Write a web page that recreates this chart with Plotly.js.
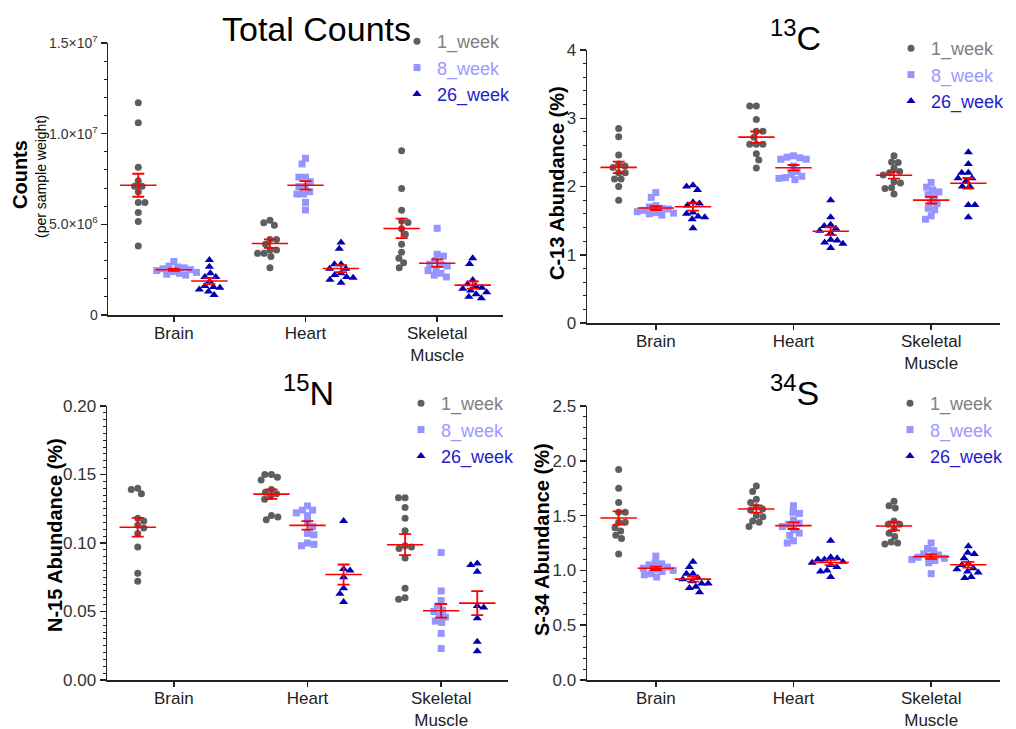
<!DOCTYPE html>
<html><head><meta charset="utf-8">
<script src="https://cdn.plot.ly/plotly-3.0.1.min.js"></script>
<style>html,body{margin:0;padding:0;background:#fff}#chart{width:1016px;height:729px}</style>
</head><body><div id="chart"></div>
<script>
// ---------------- DATA ----------------
const categories = ['Brain', 'Heart', 'Skeletal<br>Muscle'];
const seriesNames = ['1_week', '8_week', '26_week'];

// Total counts (per sample weight): [Brain, Heart, Skeletal Muscle]
const counts_1week = [
  [11.7e6, 10.6e6, 8.15e6, 7.4e6, 7.1e6, 7.1e6, 6.8e6, 6.2e6, 6.2e6, 5.65e6, 5.15e6, 3.8e6],
  [5.22e6, 5.09e6, 4.95e6, 4.17e6, 4.17e6, 3.9e6, 3.58e6, 3.58e6, 3.4e6, 3.4e6, 3.22e6, 2.61e6],
  [9.06e6, 6.97e6, 5.78e6, 5.18e6, 5.1e6, 4.75e6, 4.45e6, 3.9e6, 3.46e6, 3.13e6, 2.88e6, 2.61e6]];
const counts_8week = [
  [2.95e6, 2.7e6, 2.65e6, 2.6e6, 2.55e6, 2.5e6, 2.45e6, 2.4e6, 2.35e6, 2.3e6, 2.25e6, 2.2e6],
  [8.64e6, 8.33e6, 7.6e6, 7.6e6, 7.35e6, 7.08e6, 7.08e6, 6.8e6, 6.67e6, 6.67e6, 6.21e6, 5.79e6],
  [4.78e6, 3.35e6, 3.25e6, 3.0e6, 2.8e6, 2.8e6, 2.7e6, 2.55e6, 2.45e6, 2.3e6, 2.2e6, 2.1e6]];
const counts_26week = [
  [3.03e6, 2.66e6, 2.3e6, 2.1e6, 2.1e6, 1.85e6, 1.6e6, 1.55e6, 1.5e6, 1.4e6, 1.3e6, 1.1e6],
  [4.0e6, 3.65e6, 2.8e6, 2.8e6, 2.55e6, 2.55e6, 2.3e6, 2.2e6, 2.1e6, 2.05e6, 1.95e6, 1.78e6],
  [3.13e6, 2.81e6, 1.93e6, 1.7e6, 1.6e6, 1.5e6, 1.45e6, 1.35e6, 1.25e6, 1.15e6, 1.0e6, 0.92e6]];

// C-13 abundance (%)
const c13_1week = [
  [2.85, 2.73, 2.46, 2.33, 2.3, 2.28, 2.2, 2.2, 2.11, 2.11, 2.0, 1.8],
  [3.18, 3.18, 2.98, 2.81, 2.81, 2.72, 2.62, 2.62, 2.62, 2.48, 2.39, 2.27],
  [2.45, 2.36, 2.35, 2.27, 2.22, 2.2, 2.17, 2.07, 2.05, 1.98, 1.97, 1.89]];
const c13_8week = [
  [1.91, 1.84, 1.72, 1.7, 1.68, 1.67, 1.65, 1.63, 1.62, 1.61, 1.6, 1.58],
  [2.45, 2.43, 2.42, 2.4, 2.4, 2.3, 2.22, 2.18, 2.15, 2.13, 2.12, 2.1],
  [2.06, 1.99, 1.95, 1.92, 1.88, 1.85, 1.77, 1.75, 1.68, 1.66, 1.57, 1.52]];
const c13_26week = [
  [2.02, 2.0, 1.95, 1.77, 1.75, 1.72, 1.62, 1.6, 1.56, 1.55, 1.52, 1.39],
  [1.8, 1.55, 1.44, 1.42, 1.38, 1.35, 1.32, 1.22, 1.21, 1.18, 1.16, 1.1],
  [2.5, 2.33, 2.2, 2.2, 2.12, 2.12, 2.08, 2.0, 2.0, 1.73, 1.73, 1.55]];

// N-15 abundance (%)
const n15_1week = [
  [0.140, 0.139, 0.136, 0.118, 0.116, 0.113, 0.111, 0.107, 0.097, 0.078, 0.072],
  [0.150, 0.150, 0.148, 0.146, 0.139, 0.137, 0.136, 0.134, 0.132, 0.120, 0.119, 0.117],
  [0.133, 0.133, 0.126, 0.118, 0.109, 0.098, 0.097, 0.096, 0.089, 0.067, 0.060, 0.059]];
const n15_8week = [
  [],
  [0.127, 0.124, 0.124, 0.122, 0.120, 0.115, 0.112, 0.107, 0.106, 0.100, 0.099, 0.098],
  [0.093, 0.065, 0.058, 0.054, 0.051, 0.050, 0.047, 0.046, 0.043, 0.042, 0.034, 0.023]];
const n15_26week = [
  [],
  [0.116, 0.081, 0.080, 0.075, 0.067, 0.063, 0.057],
  [0.085, 0.084, 0.079, 0.054, 0.053, 0.045, 0.028, 0.021]];

// S-34 abundance (%)
const s34_1week = [
  [1.92, 1.75, 1.62, 1.53, 1.53, 1.44, 1.44, 1.39, 1.36, 1.32, 1.29, 1.15],
  [1.77, 1.72, 1.65, 1.62, 1.58, 1.56, 1.55, 1.50, 1.49, 1.45, 1.44, 1.40],
  [1.63, 1.59, 1.57, 1.45, 1.42, 1.42, 1.38, 1.34, 1.31, 1.26, 1.25, 1.24]];
const s34_8week = [
  [1.13, 1.07, 1.06, 1.05, 1.03, 1.02, 1.01, 1.00, 0.99, 0.97, 0.96, 0.94],
  [1.59, 1.53, 1.52, 1.46, 1.43, 1.42, 1.40, 1.37, 1.34, 1.32, 1.27, 1.25],
  [1.25, 1.20, 1.18, 1.15, 1.14, 1.13, 1.12, 1.11, 1.10, 1.09, 1.07, 0.97]];
const s34_26week = [
  [1.08, 1.03, 0.97, 0.97, 0.93, 0.92, 0.90, 0.88, 0.88, 0.85, 0.84, 0.80],
  [1.27, 1.12, 1.11, 1.10, 1.10, 1.08, 1.07, 1.05, 1.03, 1.00, 0.99, 0.94],
  [1.22, 1.16, 1.15, 1.11, 1.06, 1.05, 1.02, 1.01, 0.99, 0.98, 0.94, 0.93]];

// Axis tick labels
const countsTickVals = [0, 5e6, 1e7, 1.5e7];
const countsTickText = ['0', '5.0×10<sup>6</sup>', '1.0×10<sup>7</sup>', '1.5×10<sup>7</sup>'];
const c13TickVals = [0, 1, 2, 3, 4];
const c13TickText = ['0', '1', '2', '3', '4'];
const n15TickVals = [0, 0.05, 0.10, 0.15, 0.20];
const n15TickText = ['0.00', '0.05', '0.10', '0.15', '0.20'];
const s34TickVals = [0, 0.5, 1.0, 1.5, 2.0, 2.5];
const s34TickText = ['0.0', '0.5', '1.0', '1.5', '2.0', '2.5'];

// ---------------- STYLE / LAYOUT ----------------
const W = 1016, H = 729;
const FONT = 'Liberation Sans, Arial, sans-serif';
const markerColors = ['#5e5e5e', '#9595ff', '#0000b0'];
const legendColors = ['#808080', '#9a9aff', '#2121cc'];
const symbols = ['circle', 'square', 'triangle-up'];
const sizes = [7, 7, 8];
const groupOffset = [-0.27, 0, 0.27];
const XRANGE = [-0.5, 2.5];

const panels = [
  {key: '', series: [counts_1week, counts_8week, counts_26week], px: [108, 503], py: [43, 315], yr: [0, 1.5e7],
   tv: countsTickVals, tt: countsTickText, tfs: 14, minor: 1e6, legend: 'legend', leg: [397, 41]},
  {key: '2', series: [c13_1week, c13_8week, c13_26week], px: [587, 1000], py: [50, 323], yr: [0, 4],
   tv: c13TickVals, tt: c13TickText, tfs: 17, minor: 0.2, legend: 'legend2', leg: [891, 48]},
  {key: '3', series: [n15_1week, n15_8week, n15_26week], px: [107, 508], py: [406, 680], yr: [0, 0.2],
   tv: n15TickVals, tt: n15TickText, tfs: 17, minor: 0.005, legend: 'legend3', leg: [401, 403]},
  {key: '4', series: [s34_1week, s34_8week, s34_26week], px: [587, 1000], py: [406, 680], yr: [0, 2.5],
   tv: s34TickVals, tt: s34TickText, tfs: 17, minor: 0.1, legend: 'legend4', leg: [890, 403]}
];

function swarm(values, pxPerY, d) {
  const idx = values.map((v, i) => i).sort((a, b) => values[b] - values[a]);
  const placed = [];
  const out = new Array(values.length).fill(0);
  idx.forEach((i, k) => {
    const y = values[i] * pxPerY;
    const cands = [0];
    placed.forEach(p => {
      const dy = Math.abs(p.y - y);
      if (dy < d) { const dx = Math.sqrt(d * d - dy * dy); cands.push(p.x + dx, p.x - dx); }
    });
    cands.sort((a, b) => (Math.abs(a) - Math.abs(b)) || (k % 2 ? a - b : b - a));
    let x = 0;
    for (const c of cands) {
      if (placed.every(p => Math.hypot(p.x - c, p.y - y) >= d - 1e-6)) { x = c; break; }
    }
    placed.push({x, y});
    out[i] = x;
  });
  return out;
}
const mean = a => a.reduce((s, v) => s + v, 0) / a.length;
const sem = a => { const m = mean(a); return Math.sqrt(a.reduce((s, v) => s + (v - m) * (v - m), 0) / (a.length - 1)) / Math.sqrt(a.length); };

const traces = [];
const meanTraces = [];
const layout = {
  width: W, height: H, margin: {l: 0, r: 0, t: 0, b: 0},
  paper_bgcolor: '#fff', plot_bgcolor: '#fff',
  font: {family: FONT, color: '#222'},
  showlegend: true, hovermode: false, annotations: []
};

panels.forEach(P => {
  const xa = 'xaxis' + P.key, ya = 'yaxis' + P.key;
  const xr = 'x' + P.key, yr = 'y' + P.key;
  const pxPerX = (P.px[1] - P.px[0]) / (XRANGE[1] - XRANGE[0]);
  const pxPerY = (P.py[1] - P.py[0]) / (P.yr[1] - P.yr[0]);
  P.series.forEach((ser, s) => {
    const xs = [], ys = [], mx = [], my = [], me = [];
    ser.forEach((vals, c) => {
      if (!vals.length) return;
      const off = swarm(vals, pxPerY, 6.6);
      vals.forEach((v, i) => { xs.push(c + groupOffset[s] + off[i] / pxPerX); ys.push(v); });
      mx.push(c + groupOffset[s]); my.push(mean(vals)); me.push(sem(vals));
    });
    traces.push({
      type: 'scatter', mode: 'markers', x: xs, y: ys, xaxis: xr, yaxis: yr,
      name: '<span style="color:' + legendColors[s] + '">' + seriesNames[s] + '</span>',
      legend: P.legend,
      marker: {symbol: symbols[s], size: sizes[s], color: markerColors[s], line: {width: 0}}
    });
    meanTraces.push({
      type: 'scatter', mode: 'markers', x: mx, y: my, xaxis: xr, yaxis: yr, showlegend: false,
      marker: {symbol: 'line-ew', size: 26, color: '#ff0000', line: {color: '#ff0000', width: 1.6}},
      error_y: {type: 'data', array: me, visible: true, color: '#ff0000', thickness: 1.8, width: 6}
    });
  });
  layout[xa] = {
    domain: [P.px[0] / W, P.px[1] / W], anchor: yr, range: XRANGE,
    tickmode: 'array', tickvals: [0, 1, 2], ticktext: categories,
    ticks: 'outside', ticklen: 5, tickwidth: 1.5, tickcolor: '#222', ticklabelstandoff: -3,
    showline: true, linecolor: '#222', linewidth: 1.5, showgrid: false, zeroline: false,
    tickfont: {size: 17, color: '#222', family: FONT}, fixedrange: true
  };
  layout[ya] = {
    domain: [1 - P.py[1] / H, 1 - P.py[0] / H], anchor: xr, range: P.yr,
    tickmode: 'array', tickvals: P.tv, ticktext: P.tt,
    ticks: 'outside', ticklen: 6, tickwidth: 1.5, tickcolor: '#222',
    minor: {dtick: P.minor, ticks: 'outside', ticklen: 3, tickwidth: 1, tickcolor: '#222', showgrid: false},
    showline: true, linecolor: '#222', linewidth: 1.5, showgrid: false, zeroline: false,
    tickfont: {size: P.tfs, color: '#333', family: FONT}, fixedrange: true
  };
  layout[P.legend] = {
    x: P.leg[0] / W, y: 1 - (P.leg[1] - 18) / H, xanchor: 'left', yanchor: 'top',
    bgcolor: 'rgba(0,0,0,0)', borderwidth: 0, itemwidth: 30,
    font: {size: 18, family: FONT}, tracegroupgap: 0
  };
});

function ann(text, x, y, size, opts) {
  return Object.assign({text, x: x / W, y: 1 - y / H, xref: 'paper', yref: 'paper', showarrow: false,
    xanchor: 'center', yanchor: 'middle', font: {size, family: FONT, color: '#000'}}, opts || {});
}
layout.annotations.push(
  ann('Total Counts', 316, 29, 34),
  ann('<sup>13</sup>C', 795, 35, 34),
  ann('<sup>15</sup>N', 308, 390, 34),
  ann('<sup>34</sup>S', 794, 390, 34),
  ann('<b>Counts</b>', 20, 175, 20, {textangle: -90}),
  ann('(per sample weight)', 41, 177, 14, {textangle: -90}),
  ann('<b>C-13 Abundance (%)</b>', 557, 183, 20, {textangle: -90}),
  ann('<b>N-15 Abundance (%)</b>', 55, 535, 20, {textangle: -90}),
  ann('<b>S-34 Abundance (%)</b>', 542, 540, 20, {textangle: -90})
);

Plotly.newPlot('chart', traces.concat(meanTraces), layout, {staticPlot: true, displayModeBar: false});
</script>
</body></html>
